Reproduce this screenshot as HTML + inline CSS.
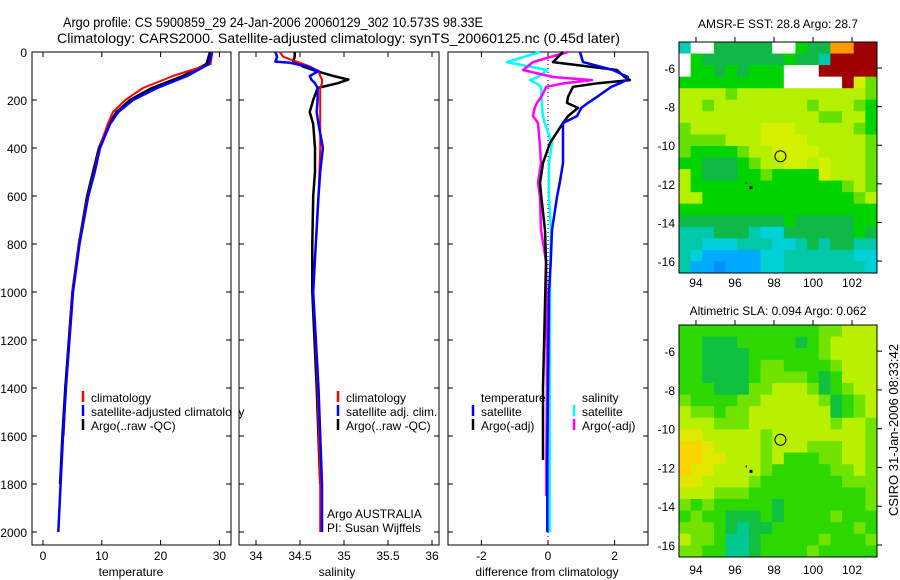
<!DOCTYPE html>
<html><head><meta charset="utf-8"><style>
html,body{margin:0;padding:0;background:#fff;}
svg{display:block;font-family:"Liberation Sans",sans-serif;}
text{fill:#000;}
</style></head><body>
<svg id="fig" width="900" height="580" viewBox="0 0 900 580" xmlns="http://www.w3.org/2000/svg">
<text x="63" y="27" font-size="14" textLength="420" lengthAdjust="spacingAndGlyphs">Argo profile: CS 5900859_29 24-Jan-2006 20060129_302 10.573S 98.33E</text>
<text x="57" y="43" font-size="14" textLength="563" lengthAdjust="spacingAndGlyphs">Climatology: CARS2000. Satellite-adjusted climatology: synTS_20060125.nc (0.45d later)</text>
<g id="g"></g>
<text transform="translate(898,430) rotate(-90)" font-size="13" text-anchor="middle">CSIRO 31-Jan-2006 08:33:42</text>
</svg>
<script>
// ---- profile data ----
const tempDepth   = [0,50,100,150,200,250,300,400,500,600,800,1000,1400,1600,1800,2000];
const tempClim    = [28.8,28.5,22.1,17.0,14.0,11.9,11.0,9.6,8.7,7.6,6.1,5.0,3.9,3.5,null,null];
const tempSat     = [28.7,28.2,24.5,19.4,15.3,12.8,11.4,9.7,8.8,7.7,6.2,5.1,3.9,3.4,3.0,2.6];
const tempArgo    = [28.4,27.8,23.8,18.5,14.8,12.5,11.2,9.5,8.5,7.5,6.1,5.0,3.8,3.3,2.9,null];

const salDepth  = [0,20,40,45,60,80,100,115,130,150,200,250,300,400,500,600,800,1000,1400,1800,2000];
const salClim   = [34.27,34.31,34.46,34.5,34.61,34.71,34.73,34.75,34.75,34.73,34.73,34.73,34.73,34.73,34.72,34.71,34.68,34.65,34.70,34.73,34.73];
const salSat    = [34.22,34.24,34.22,34.39,34.58,34.71,34.61,34.63,34.67,34.70,34.70,34.69,34.71,34.76,34.73,34.71,34.68,34.65,34.71,34.75,34.75];
const salArgo   = [34.44,34.44,34.42,34.47,34.53,34.69,34.88,35.05,34.93,34.70,34.65,34.61,34.65,34.67,34.67,34.65,34.64,34.64,34.69,34.73,null];

const diffDepth = [0,42,75,104,117,130,145,187,212,233,267,296,379,462,546,604,742,879,1000,1400,1700,1850,2000];
const dTempSat  = [0.96,1.05,1.95,2.40,2.35,2.16,1.9,1.47,1.2,1.0,0.87,0.45,0.45,0.45,0.35,0.27,0.12,0.08,0.03,0.0,-0.02,-0.02,-0.02];
const dTempArgo = [0.45,0.15,2.07,2.3,2.46,1.5,0.75,0.6,0.57,0.9,0.6,0.45,0.06,-0.15,-0.24,-0.2,-0.09,-0.06,-0.08,-0.15,-0.15,null,null];
const dSalSat   = [-0.24,-1.23,-0.03,-0.3,-0.54,-0.35,-0.21,-0.2,-0.18,-0.18,-0.15,-0.1,0.12,0.03,0.03,0.03,0.09,0.07,0.06,0.05,0.05,0.05,0.05];
const dSalArgo  = [0.6,-0.45,-0.75,0.15,1.32,0.5,-0.05,-0.2,-0.33,-0.4,-0.45,-0.3,-0.25,-0.21,-0.3,-0.24,-0.21,-0.05,-0.05,-0.03,-0.05,-0.05,null];

const depthTicks = [0,200,400,600,800,1000,1200,1400,1600,1800,2000];
const tempTicks = [0,10,20,30];
const salTicks = [34,34.5,35,35.5,36];
const diffTicks = [-2,0,2];
const lonTicks = [94,96,98,100,102];
const latTicks = [-6,-8,-10,-12,-14,-16];

// ---- map grids (17 lon cols x 20 lat rows) ----
const sstGrid = [
"twwgggggwwGggoorr","wGgggggggGggcrrrr","wGGgGgGGGwwwrrrrr","GGGGGGGGGwwwwwrYl",
"yyyylyyyyyyyyyyyl","yylyyyyyyyylyyylG","yyyyyyyyyyyyllyyG","lyyyyyyYYYyyyyylG",
"llllyyyYYYYyyyyyl","lGGGGlyyYYYYyyyyl","GGgggGlyyYYyYyyyl","yGgggGGlGGGGYyyyl",
"yGGGGGGGGGGGGGlyl","yyGGGGGGGGGGGGGly","GGGGGGGGGGGGGGGGG","gggggggggGgggggGG",
"cccgggcCCggggggGg","ccCCCcccCCcgcggcc","cCbbbbbCCccccccCC","cbbBbbbCCcccccccC"];
const slaGrid = [
"GGGGGGGGGGGGllyyy","GGgggGGGGGgGlyyyy","GGggggGGGGGGlyyyy","GGggggGllGGGGlyyy",
"GGggggGllllGgGyyy","GGGgggllyyylgGlyy","lGGGGllyyyyylgGly","yllGllyyyyyyygGly",
"yyylllyyyyyyylyyl","eeyyyyylyyyyyyyyl","OOeyyyylyyylllyyl","OOeeyyylyGGGllyyl",
"OeeyyyylGGGGGllyl","eeyyyylGGGGGGGlll","yyylllGGGGGGGGGGl","lGlGGGGGgGGGGGGGl",
"GlGGgggGgGGGGlGGG","lllGgcggGGGGGGGlG","yllGccgGGGGGlGGGl","llGGccgGGGGlGGGGG"];
const sstColors = {w:"#ffffff",t:"#00ccb4",g:"#10b848",G:"#00d400",l:"#66e000",y:"#b4f000",Y:"#d4f000",r:"#a00000",o:"#ff9900",c:"#00c8a8",C:"#00d0d8",b:"#00aaff",B:"#0090ff"};
const slaColors = {g:"#10c040",G:"#2cd800",l:"#70e400",y:"#b8f000",e:"#e0e800",O:"#f8d400",c:"#00c890"};
const floatLon = 98.33, floatLat = -10.573;

// ---- helpers ----
const NS="http://www.w3.org/2000/svg";
const G=document.getElementById('g');
function mk(tag,attrs,parent){const e=document.createElementNS(NS,tag);for(const k in attrs)e.setAttribute(k,attrs[k]);(parent||G).appendChild(e);return e;}
const yDepth = d => 52 + d*0.24;

function panel(name,x0,x1,y0,y1){
  const r=mk('rect',{x:x0,y:y0,width:x1-x0,height:y1-y0,fill:'none',stroke:'#000','stroke-width':1});
  
  
}
function xTicks(name,xs,vals,fmt,y0,y1,labelY){
  vals.forEach(v=>{
    const x=xs(v);
    mk('line',{x1:x,x2:x,y1:y1,y2:y1-5,stroke:'#000'});
    mk('line',{x1:x,x2:x,y1:y0,y2:y0+5,stroke:'#000'});
    const t=mk('text',{x:x,y:labelY,'font-size':12,'text-anchor':'middle'});
    t.textContent=fmt(v);
    
    
  });
}
function depthTickMarks(x0,x1){
  depthTicks.forEach(d=>{const y=yDepth(d);
    mk('line',{x1:x0,x2:x0+5,y1:y,y2:y,stroke:'#000'});
    mk('line',{x1:x1,x2:x1-5,y1:y,y2:y,stroke:'#000'});});
}
function profileLine(name,xs,vals,depths,color,w){
  let pts=[];
  vals.forEach((v,i)=>{if(v!==null)pts.push(xs(v).toFixed(1)+','+yDepth(depths[i]).toFixed(1));});
  const p=mk('polyline',{points:pts.join(' '),fill:'none',stroke:color,'stroke-width':w,'stroke-linejoin':'round'});
  
  
}
function legendEntry(name,x,y,color,label){
  if(color){mk('line',{x1:x,x2:x,y1:y-11,y2:y,stroke:color,'stroke-width':2.5});}
  const t=mk('text',{x:x+8,y:y,'font-size':12});
  t.textContent=label;
  
  
}
function label(name,x,y,str,anchor,size){
  const t=mk('text',{x:x,y:y,'font-size':size||12,'text-anchor':anchor||'start'});
  t.textContent=str;
  
  
}

// ---- panel 1: temperature ----
const xT = t => 43 + 5.88*t;
panel('temperature-panel',32,231,52,545);
depthTickMarks(32,231);
depthTicks.forEach(d=>label('depth-tick-label',27,yDepth(d)+5,String(d),'end',12));
xTicks('temperature',xT,tempTicks,v=>String(v),52,545,560);
label('x-axis-title-temperature',131,576,'temperature','middle',12);
profileLine('temperature-argo',xT,tempArgo,tempDepth,'#000',2.5);
profileLine('temperature-climatology',xT,tempClim,tempDepth,'#f00',2);
profileLine('temperature-satellite-adjusted',xT,tempSat,tempDepth,'#00f',2.5);
legendEntry('legend-climatology',83,402,'#f00','climatology');
legendEntry('legend-satellite-adjusted',83,416,'#00f','satellite-adjusted climatology');
legendEntry('legend-argo',83,430,'#000','Argo(..raw -QC)');

// ---- panel 2: salinity ----
const xS = s => 256 + 88*(s-34);
mk('rect',{x:232,y:52,width:7,height:500,fill:'#fff'});
panel('salinity-panel',239,439,52,545);
depthTickMarks(239,439);
xTicks('salinity',xS,salTicks,v=>String(v),52,545,560);
label('x-axis-title-salinity',337,576,'salinity','middle',12);
profileLine('salinity-argo',xS,salArgo,salDepth,'#000',2.5);
profileLine('salinity-climatology',xS,salClim,salDepth,'#f00',2);
profileLine('salinity-satellite-adjusted',xS,salSat,salDepth,'#00f',2.5);
legendEntry('legend-sal-climatology',338,402,'#f00','climatology');
legendEntry('legend-sal-satellite',338,416,'#00f','satellite adj. clim.');
legendEntry('legend-sal-argo',338,430,'#000','Argo(..raw -QC)');
label('argo-australia-label',327,518,'Argo AUSTRALIA','start',12);
label('pi-label',327,532,'PI: Susan Wijffels','start',12);

// ---- panel 3: differences ----
const xD = d => 548 + 33.3*d;
panel('difference-panel',448,648,52,545);
depthTickMarks(448,648);
xTicks('difference',xD,diffTicks,v=>String(v),52,545,560);
label('x-axis-title-difference',547,576,'difference from climatology','middle',12);
mk('line',{x1:xD(0),x2:xD(0),y1:52,y2:545,stroke:'#000','stroke-dasharray':'1,3'});
profileLine('diff-salinity-satellite',xD,dSalSat,diffDepth,'#0ff',2.5);
profileLine('diff-salinity-argo',xD,dSalArgo,diffDepth,'#f0f',2.5);
profileLine('diff-temperature-argo',xD,dTempArgo,diffDepth,'#000',2.5);
profileLine('diff-temperature-satellite',xD,dTempSat,diffDepth,'#00f',2.5);
label('legend-temperature-header',481,402,'temperature','start',12);
legendEntry('legend-temp-satellite',473,416,'#00f','satellite');
legendEntry('legend-temp-argo',473,430,'#000','Argo(-adj)');
label('legend-salinity-header',582,402,'salinity','start',12);
legendEntry('legend-sal-sat-diff',574,416,'#0ff','satellite');
legendEntry('legend-sal-argo-diff',574,430,'#f0f','Argo(-adj)');

// ---- maps ----
function drawMap(name,grid,colors,top,bottom,title,titleY,labelY){
  const x0=679,x1=877,lonMin=93.13,lonMax=103.28,latTop=-4.65,latBot=-16.62;
  const xL=lon=>x0+(lon-lonMin)/(lonMax-lonMin)*(x1-x0);
  const yL=lat=>top+(latTop-lat)/(latTop-latBot)*(bottom-top);
  const rows=grid.length, cols=grid[0].length;
  const cw=(x1-x0)/cols, ch=(bottom-top)/rows;
  const gg=mk('g',{});
  
  
  grid.forEach((row,r)=>{[...row].forEach((c,k)=>{
    const cell=mk('rect',{x:(x0+k*cw).toFixed(2),y:(top+r*ch).toFixed(2),width:(cw+0.5).toFixed(2),height:(ch+0.5).toFixed(2),fill:colors[c]||'#fff'},gg);
    
    
  });});
  panel(name,x0,x1,top,bottom);
  lonTicks.forEach(l=>{const x=xL(l);
    mk('line',{x1:x,x2:x,y1:top,y2:top-5,stroke:'#000'});
    label(name+'-lon-tick-label',x,labelY,String(l),'middle',12);});
  latTicks.forEach(l=>{const y=yL(l);
    mk('line',{x1:x1,x2:x1+5,y1:y,y2:y,stroke:'#000'});
    label(name+'-lat-tick-label',675,y+5,String(l),'end',12);});
  label(name+'-title',778,titleY,title,'middle',12);
  const cx=xL(floatLon), cy=yL(floatLat);
  const ci=mk('circle',{cx:cx,cy:cy,r:5.5,fill:'none',stroke:'#000','stroke-width':1});
  
  
  mk('rect',{x:xL(96.82)-1.5,y:yL(-12.2)-1.5,width:3,height:3,fill:'#000'});
  mk('rect',{x:xL(96.55),y:yL(-11.9),width:1,height:2,fill:'#000'});
}
drawMap('sst-map',sstGrid,sstColors,42,273,'AMSR-E SST: 28.8 Argo: 28.7',28,287);
drawMap('sla-map',slaGrid,slaColors,325,557,'Altimetric SLA: 0.094 Argo: 0.062',315,574);
</script>
</body></html>
